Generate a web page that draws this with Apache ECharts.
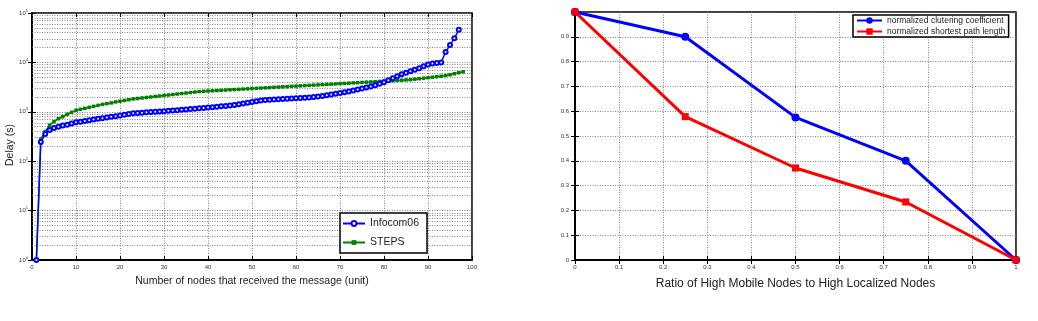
<!DOCTYPE html>
<html>
<head>
<meta charset="utf-8">
<script src="https://cdn.jsdelivr.net/npm/echarts@6/dist/echarts.min.js"></script>
<style>
  html, body { margin: 0; padding: 0; background: #fff; }
  #chart { width: 1038px; height: 321px; }
</style>
</head>
<body>
<div id="chart"></div>
<script>
// left panel: delay vs number of nodes (sorted), one value per node index
const infocomDelay = [
    1, 245, 355, 427, 468, 501, 525, 550, 582, 617,
    631, 653, 676, 700, 724, 741, 767, 794, 813, 841,
    871, 902, 933, 944, 955, 977, 989, 1000, 1012, 1023,
    1047, 1059, 1072, 1096, 1109, 1135, 1148, 1175, 1189, 1216,
    1230, 1259, 1288, 1318, 1349, 1380, 1429, 1479, 1531, 1585,
    1641, 1698, 1738, 1758, 1778, 1799, 1820, 1841, 1862, 1884,
    1905, 1928, 1950, 1995, 2042, 2089, 2163, 2239, 2317, 2399,
    2483, 2570, 2692, 2818, 2951, 3090, 3236, 3467, 3715, 3981,
    4365, 4786, 5248, 5754, 6166, 6607, 7079, 7586, 8318, 9120,
    9550, 9772, 10000, 16200, 22400, 30900, 45700
];
const stepsDelay = [
    1, 282, 398, 537, 631, 724, 794, 891, 977, 1072,
    1122, 1175, 1230, 1288, 1349, 1413, 1462, 1514, 1585, 1641,
    1698, 1758, 1820, 1862, 1905, 1950, 1995, 2042, 2089, 2138,
    2188, 2239, 2291, 2344, 2399, 2455, 2512, 2570, 2600, 2630,
    2661, 2692, 2723, 2754, 2786, 2818, 2851, 2884, 2917, 2951,
    2985, 3020, 3055, 3090, 3126, 3162, 3199, 3236, 3273, 3311,
    3350, 3388, 3428, 3467, 3508, 3548, 3589, 3631, 3673, 3715,
    3758, 3802, 3846, 3890, 3936, 3981, 4027, 4074, 4121, 4169,
    4217, 4266, 4315, 4365, 4416, 4467, 4571, 4677, 4786, 4898,
    5012, 5129, 5248, 5433, 5623, 5888, 6166, 6457
];

// right panel
const ratios = [0, 0.25, 0.5, 0.75, 1];
const clusteringCoef = [1, 0.9, 0.575, 0.4, 0];
const shortestPath = [1, 0.578, 0.371, 0.234, 0];

const leftNames = ["Infocom06", "STEPS"];
const rightNames = ["normalized clutering coefficient", "normalized shortest path length"];

const FONT = "Liberation Sans, Arial, Helvetica, sans-serif";
const gridLine = { show: true, lineStyle: { color: "#666", type: [1, 1.5], width: 0.8 } };

function toPairs(ys, xs) {
    return ys.map((y, i) => [xs ? xs[i] : i + 1, y]);
}

// minor log grid lines (2..9 in each decade)
const minorLogLines = [];
for (let d = 1; d < 100000; d *= 10) {
    for (let k = 2; k <= 9; k++) minorLogLines.push({ yAxis: k * d });
}

// box ticks on the top / right sides (no labels)
function mirrorAxis(base) {
    return Object.assign({}, base, {
        name: "", axisLabel: { show: false }, splitLine: { show: false },
        axisLine: { show: false }
    });
}

const xLeft = {
    gridIndex: 0, type: "value", min: 0, max: 100, interval: 10,
    axisTick: { inside: true, length: 4, lineStyle: { color: "#000" } }
};
const xRight = {
    gridIndex: 1, type: "value", min: 0, max: 1, interval: 0.1,
    axisTick: { inside: true, length: 4, lineStyle: { color: "#000" } }
};
const yLeft = {
    gridIndex: 0, type: "log", logBase: 10, min: 1, max: 100000,
    axisTick: { inside: true, length: 4, lineStyle: { color: "#000" } }
};
const yRight = {
    gridIndex: 1, type: "value", min: 0, max: 1, interval: 0.1,
    axisTick: { inside: true, length: 4, lineStyle: { color: "#000" } }
};

const chart = echarts.init(document.getElementById("chart"));

chart.setOption({
    animation: false,
    textStyle: { fontFamily: FONT },
    grid: [
        { left: 32, top: 13, width: 440, height: 247, show: true, borderColor: "#000", borderWidth: 1.5 },
        { left: 575, top: 12, width: 441, height: 248, show: true, borderColor: "#000", borderWidth: 1.5 }
    ],
    graphic: [{
        type: "text", x: 10, y: 145, rotation: Math.PI / 2,
        style: {
            text: "Delay (s)", fontSize: 10.5, fontFamily: FONT, fill: "#222",
            align: "center", verticalAlign: "middle"
        }
    }],
    legend: [
        {
            data: leftNames,
            orient: "vertical",
            left: 340, top: 213,
            itemWidth: 22, itemHeight: 6, itemGap: 8,
            padding: [5, 8, 5, 2],
            borderColor: "#000", borderWidth: 1.5,
            backgroundColor: "#fff",
            textStyle: { fontSize: 10.5, color: "#222", fontFamily: FONT }
        },
        {
            data: rightNames,
            orient: "vertical",
            left: 853, top: 15,
            itemWidth: 25, itemHeight: 8, itemGap: 2,
            padding: [1, 3, 1, 3],
            borderColor: "#000", borderWidth: 1.5,
            backgroundColor: "#fff",
            textStyle: { fontSize: 8.5, color: "#222", fontFamily: FONT }
        }
    ],
    xAxis: [
        Object.assign({}, xLeft, {
            name: "Number of nodes that received the message (unit)",
            nameLocation: "middle", nameGap: 16,
            nameTextStyle: { fontSize: 10.5, color: "#222" },
            axisLine: { lineStyle: { color: "#000", width: 2 } },
            axisLabel: { fontSize: 6, color: "#333", margin: 4 },
            splitLine: gridLine
        }),
        Object.assign({}, xRight, {
            name: "Ratio of High Mobile Nodes to High Localized Nodes",
            nameLocation: "middle", nameGap: 18,
            nameTextStyle: { fontSize: 12, color: "#222" },
            axisLine: { lineStyle: { color: "#000", width: 2 } },
            axisLabel: { fontSize: 6, color: "#333", margin: 4 },
            splitLine: gridLine
        }),
        Object.assign(mirrorAxis(xLeft), { position: "top" }),
        Object.assign(mirrorAxis(xRight), { position: "top" })
    ],
    yAxis: [
        Object.assign({}, yLeft, {
            axisLine: { lineStyle: { color: "#000", width: 2 } },
            axisLabel: {
                margin: 4, color: "#333",
                formatter: v => "{b|10}{s|" + Math.round(Math.log10(v)) + "}",
                rich: {
                    b: { fontSize: 6, color: "#333", fontFamily: FONT },
                    s: { fontSize: 4, color: "#333", fontFamily: FONT, verticalAlign: "top", padding: [0, 0, 5, 0] }
                }
            },
            splitLine: gridLine
        }),
        Object.assign({}, yRight, {
            axisLine: { lineStyle: { color: "#000", width: 2 } },
            axisLabel: { fontSize: 6, color: "#333", margin: 6, showMaxLabel: false },
            splitLine: gridLine
        }),
        Object.assign(mirrorAxis(yLeft), { position: "right" }),
        Object.assign(mirrorAxis(yRight), { position: "right" })
    ],
    series: [
        {
            name: "Infocom06", type: "line",
            xAxisIndex: 0, yAxisIndex: 0,
            data: toPairs(infocomDelay),
            color: "#0000ff",
            symbol: "emptyCircle", symbolSize: 4,
            lineStyle: { width: 1.5 },
            itemStyle: { borderWidth: 1 },
            z: 3,
            markLine: {
                silent: true, symbol: "none", label: { show: false },
                lineStyle: { color: "#666", type: [1, 1.5], width: 0.8 },
                data: minorLogLines,
                z: 1
            }
        },
        {
            name: "STEPS", type: "line",
            xAxisIndex: 0, yAxisIndex: 0,
            data: toPairs(stepsDelay),
            color: "#008000",
            symbol: "rect", symbolSize: 3.5,
            lineStyle: { width: 1.5 },
            z: 2
        },
        {
            name: rightNames[0], type: "line",
            xAxisIndex: 1, yAxisIndex: 1,
            data: toPairs(clusteringCoef, ratios),
            color: "#0000ff",
            symbol: "circle", symbolSize: 8,
            lineStyle: { width: 3 },
            z: 2
        },
        {
            name: rightNames[1], type: "line",
            xAxisIndex: 1, yAxisIndex: 1,
            data: toPairs(shortestPath, ratios),
            color: "#ff0000",
            symbol: "rect", symbolSize: 7,
            lineStyle: { width: 3 },
            z: 3
        }
    ]
});
</script>
</body>
</html>
